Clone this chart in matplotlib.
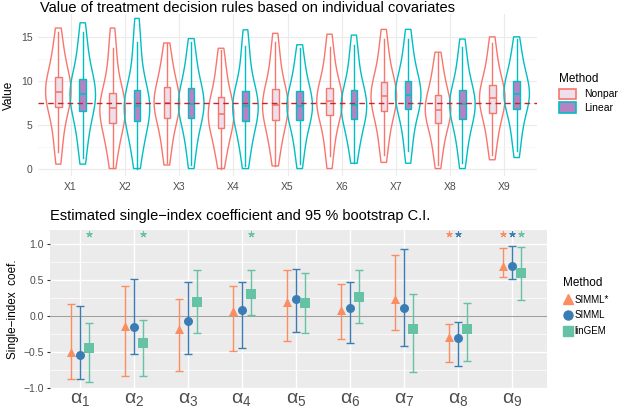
import numpy as np
import matplotlib.pyplot as plt
from matplotlib.patches import Patch
from matplotlib.lines import Line2D

# ---- top panel: value of decision rules (summary stats)
covariates = ["X1", "X2", "X3", "X4", "X5", "X6", "X7", "X8", "X9"]
# columns: min, q1, median, q3, max
nonpar = [
    [0.5, 7.0, 8.7, 10.4, 16.0],
    [0.0, 5.2, 6.9, 8.6, 16.0],
    [0.4, 5.8, 7.5, 9.25, 14.3],
    [0.0, 4.65, 6.25, 8.2, 13.7],
    [0.3, 5.5, 7.2, 9.05, 15.4],
    [0.0, 6.1, 7.65, 9.2, 15.3],
    [0.7, 6.5, 8.25, 9.8, 15.85],
    [0.0, 5.2, 6.7, 8.4, 13.25],
    [1.0, 6.3, 8.05, 9.5, 15.0],
]
linear = [
    [0.5, 6.6, 8.45, 10.2, 16.6],
    [0.0, 5.4, 7.1, 9.0, 17.1],
    [0.0, 5.7, 7.35, 9.2, 14.8],
    [0.0, 5.4, 7.1, 8.8, 15.8],
    [0.0, 5.5, 7.1, 8.8, 14.1],
    [0.6, 5.6, 7.2, 9.0, 15.2],
    [0.6, 6.8, 8.4, 10.0, 15.85],
    [0.0, 5.6, 7.3, 8.9, 14.75],
    [1.25, 6.8, 8.5, 10.0, 15.0],
]
ref_value = 7.5

# ---- bottom panel: single-index coefficients with 95% bootstrap CI
coef_labels = [r"$\alpha_{%d}$" % i for i in range(1, 10)]
simml_star = [-0.50, -0.14, -0.18, 0.07, 0.20, 0.09, 0.24, -0.29, 0.705]
simml_star_lo = [-0.87, -0.83, -0.77, -0.48, -0.35, -0.32, -0.19, -0.64, 0.54]
simml_star_hi = [0.17, 0.42, 0.24, 0.42, 0.65, 0.45, 0.85, -0.11, 0.95]
simml = [-0.54, -0.15, -0.07, 0.09, 0.235, 0.115, 0.115, -0.31, 0.70]
simml_lo = [-0.88, -0.53, -0.53, -0.44, -0.22, -0.38, -0.42, -0.69, 0.52]
simml_hi = [0.14, 0.52, 0.48, 0.48, 0.655, 0.48, 0.94, -0.08, 0.98]
lingem = [-0.44, -0.37, 0.20, 0.31, 0.18, 0.27, -0.18, -0.18, 0.60]
lingem_lo = [-0.92, -0.83, -0.23, 0.01, -0.235, -0.10, -0.78, -0.62, 0.23]
lingem_hi = [-0.10, -0.06, 0.65, 0.64, 0.60, 0.64, 0.31, 0.18, 0.97]
# significance stars (1 = starred)
star_simml_star = [0, 0, 0, 0, 0, 0, 0, 1, 1]
star_simml = [0, 0, 0, 0, 0, 0, 0, 1, 1]
star_lingem = [1, 1, 0, 1, 0, 0, 0, 0, 1]

W, H = 618, 413
plt.rcParams['font.family'] = ['Liberation Sans', 'DejaVu Sans']
plt.rcParams['mathtext.fontset'] = 'custom'
plt.rcParams['mathtext.rm'] = 'Liberation Sans'
plt.rcParams['mathtext.it'] = 'Liberation Sans'
plt.rcParams['mathtext.default'] = 'regular'
fig = plt.figure(figsize=(W / 100, H / 100), dpi=100)

def px_axes(x0, y0, x1, y1):
    return fig.add_axes([x0 / W, 1 - y1 / H, (x1 - x0) / W, (y1 - y0) / H])

RED = "#F8766D"
TEAL = "#00BFC4"

# ================= top
ax1 = px_axes(38, 14, 537, 176)
pos = np.arange(1, 10)
probs = [0, 0.25, 0.5, 0.75, 1]
grid = np.linspace(0, 1, 300)
for vals, off, col, boxfc in [(nonpar, -0.225, RED, "#EDE0EA"), (linear, 0.225, TEAL, "#B583C4")]:
    samples = [np.interp(grid, probs, v) for v in vals]
    vp = ax1.violinplot(samples, positions=pos + off, widths=0.47,
                        showextrema=False, bw_method=0.6)
    for b in vp['bodies']:
        b.set_facecolor("none")
        b.set_edgecolor(col)
        b.set_linewidth(1.0)
        b.set_alpha(1)
    stats = []
    for v in vals:
        iqr = v[3] - v[1]
        stats.append(dict(med=v[2], q1=v[1], q3=v[3],
                          whislo=max(v[0], v[1] - 1.5 * iqr),
                          whishi=min(v[4], v[3] + 1.5 * iqr), fliers=[]))
    ax1.bxp(stats, positions=pos + off, widths=0.12, patch_artist=True,
            showcaps=False,
            boxprops=dict(facecolor=boxfc, edgecolor=col, linewidth=1.0),
            whiskerprops=dict(color=col, linewidth=1.0),
            medianprops=dict(color=col, linewidth=1.2))
ax1.axhline(ref_value, color="#C0262A", ls=(0, (4, 3)), lw=1.0, zorder=5)
ax1.set_xlim(0.4, 9.6)
ax1.set_ylim(-0.85, 17.6)
ax1.set_yticks([0, 5, 10, 15])
ax1.set_yticks([2.5, 7.5, 12.5], minor=True)
ax1.set_xticks(pos)
ax1.set_xticklabels(covariates)
ax1.grid(True, which="major", color="#EBEBEB", lw=0.8)
ax1.grid(True, which="minor", axis="y", color="#F3F3F3", lw=0.5)
ax1.set_axisbelow(True)
for s in ax1.spines.values():
    s.set_visible(False)
ax1.tick_params(length=0, labelsize=7.5, colors="#4D4D4D", pad=4)
ax1.tick_params(which="minor", length=0)
ax1.set_ylabel("Value", fontsize=8.5, labelpad=4)
fig.text(40 / W, 1 - 0.5 / H, "Value of treatment decision rules based on individual covariates",
         fontsize=10.5, va="top", ha="left")
h1 = [Patch(facecolor="#EDE0EA", edgecolor=RED, lw=1.2, label="Nonpar"),
      Patch(facecolor="#B583C4", edgecolor=TEAL, lw=1.2, label="Linear")]
fig.legend(handles=h1, title="Method", loc="upper left", bbox_to_anchor=(550 / W, 1 - 64 / H),
           frameon=False, fontsize=7.5, title_fontsize=8.5, handlelength=1.6, handleheight=1.2,
           labelspacing=0.3, alignment="left")

# ================= bottom
ax2 = px_axes(50, 230, 547, 388)
ax2.set_facecolor("#EBEBEB")
x = np.arange(1, 10)
d = 0.17
series = [
    (simml_star, simml_star_lo, simml_star_hi, star_simml_star, -d, "#FC8D62", "^", "SIMML*"),
    (simml, simml_lo, simml_hi, star_simml, 0, "#3A7DB5", "o", "SIMML"),
    (lingem, lingem_lo, lingem_hi, star_lingem, d, "#66C2A5", "s", "linGEM"),
]
handles2 = []
for val, lo, hi, st, off, col, mk, lab in series:
    val = np.array(val); lo = np.array(lo); hi = np.array(hi)
    ax2.errorbar(x + off, val, yerr=[val - lo, hi - val], fmt="none", ecolor=col,
                 elinewidth=1.0, capsize=3, capthick=1.0, zorder=3)
    ax2.scatter(x + off, val, marker=mk, s=42, color=col, zorder=4, linewidths=0)
    sx = [xi + off for xi, s_ in zip(x, st) if s_]
    ax2.scatter(sx, [1.15] * len(sx), marker=(5, 2), s=14, color=col, lw=0.8, zorder=4)
    handles2.append(Line2D([], [], marker=mk, ls="none", color=col, markersize=6.5, label=lab))
ax2.axhline(0, color="#A0A0A0", lw=0.8, zorder=2)
ax2.set_xlim(0.45, 9.65)
ax2.set_ylim(-1.0, 1.2)
ax2.set_yticks([-1.0, -0.5, 0.0, 0.5, 1.0])
ax2.set_yticklabels(["\u22121.0", "\u22120.5", "0.0", "0.5", "1.0"])
ax2.set_yticks([-0.75, -0.25, 0.25, 0.75], minor=True)
ax2.set_xticks(x)
ax2.set_xticklabels(coef_labels)
ax2.grid(True, which="major", color="white", lw=1.0)
ax2.grid(True, which="minor", axis="y", color="white", lw=0.5)
ax2.set_axisbelow(True)
for s in ax2.spines.values():
    s.set_visible(False)
ax2.tick_params(axis="y", length=2.5, labelsize=7.5, colors="#4D4D4D", pad=2, color="#333333")
ax2.tick_params(axis="x", length=0, labelsize=14, colors="#4D4D4D", pad=2)
ax2.tick_params(which="minor", length=0)
ax2.set_ylabel("Single\u2212index  coef.", fontsize=8.5, labelpad=3)
ax2.set_title("Estimated single\u2212index coefficient and 95 % bootstrap C.I.",
              fontsize=10.5, loc="left", pad=7)
fig.legend(handles=handles2, title="Method", loc="upper left", bbox_to_anchor=(557 / W, 1 - 271 / H),
           frameon=False, fontsize=7, title_fontsize=8.5, handlelength=1.0, handletextpad=0.2,
           labelspacing=0.6, alignment="left", borderaxespad=0.2)

fig.savefig("out.png", dpi=100)
